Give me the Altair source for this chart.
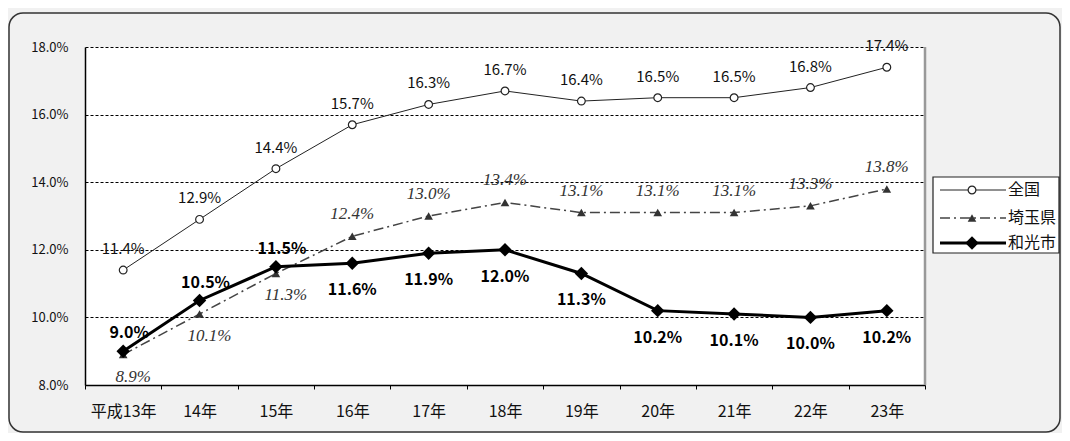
import altair as alt
import pandas as pd

years = ["平成13年", "14年", "15年", "16年", "17年", "18年", "19年", "20年", "21年", "22年", "23年"]
series_names = ["全国", "埼玉県", "和光市"]
zenkoku = [11.4, 12.9, 14.4, 15.7, 16.3, 16.7, 16.4, 16.5, 16.5, 16.8, 17.4]
saitama = [8.9, 10.1, 11.3, 12.4, 13.0, 13.4, 13.1, 13.1, 13.1, 13.3, 13.8]
wako = [9.0, 10.5, 11.5, 11.6, 11.9, 12.0, 11.3, 10.2, 10.1, 10.0, 10.2]
y_ticks = [8, 10, 12, 14, 16, 18]

rows = []
for name, vals in zip(series_names, [zenkoku, saitama, wako]):
    for i, (yr, v) in enumerate(zip(years, vals)):
        rows.append({"year": yr, "series": name, "value": v,
                     "label": f"{v:.1f}%", "idx": i})
df = pd.DataFrame(rows)

W, H = 840, 338
JP = "Noto Sans CJK JP"
SERIF = "'Liberation Serif', 'Times New Roman', serif"

x_enc = alt.X("year:N", sort=years, title=None,
              scale=alt.Scale(type="band", paddingInner=0, paddingOuter=0),
              axis=alt.Axis(tickBand="extent", tickSize=4, tickColor="black",
                            domainColor="black", domainWidth=1.5,
                            labelFont=JP, labelFontSize=16, labelColor="#111",
                            labelPadding=14, labelAngle=0, grid=False))
y_enc = alt.Y("value:Q", title=None,
              scale=alt.Scale(domain=[8, 18], nice=False, zero=False),
              axis=alt.Axis(values=y_ticks,
                            labelExpr="format(datum.value, '.1f') + '%'",
                            ticks=False, domainColor="black", domainWidth=1.5,
                            grid=True, gridColor="black", gridDash=[3, 2],
                            gridWidth=1, labelFont=JP, labelFontSize=13,
                            labelColor="#111", labelPadding=17))

base = alt.Chart(df).encode(x=x_enc, y=y_enc, text="label:N")

def sel(name):
    return base.transform_filter(alt.datum.series == name)

line_z = sel("全国").mark_line(color="#222", strokeWidth=1)
pt_z = sel("全国").mark_point(shape="circle", filled=True, fill="white",
                              stroke="#222", strokeWidth=1.2, size=60, opacity=1)
line_s = sel("埼玉県").mark_line(color="#444", strokeWidth=1.5, strokeDash=[10, 4, 2, 4])
pt_s = sel("埼玉県").mark_point(shape="triangle-up", filled=True, color="#333",
                               size=75, opacity=1)
line_w = sel("和光市").mark_line(color="black", strokeWidth=3)
pt_w = sel("和光市").mark_point(shape="diamond", filled=True, color="black",
                               size=180, opacity=1)

txt_z = sel("全国").mark_text(font=JP, fontSize=15, color="#111", dy=-21)
txt_s_up = sel("埼玉県").transform_filter(alt.datum.idx >= 3).mark_text(
    font=SERIF, fontStyle="italic", fontSize=17, color="#333", dy=-22)
txt_s_dn = sel("埼玉県").transform_filter(alt.datum.idx < 3).mark_text(
    font=SERIF, fontStyle="italic", fontSize=17, color="#333", dy=22, dx=10)
txt_w_up = sel("和光市").transform_filter(alt.datum.idx < 3).mark_text(
    font=JP, fontWeight="bold", fontSize=16, color="black", dy=-18, dx=6)
txt_w_dn = sel("和光市").transform_filter(alt.datum.idx >= 3).mark_text(
    font=JP, fontWeight="bold", fontSize=16, color="black", dy=27)

one = alt.Data(values=[{"k": 1}])

frame = alt.Chart(one).mark_rect(fillOpacity=0, stroke="#333", strokeWidth=1.5,
                                 cornerRadius=14).encode(
    x=alt.value(-76), x2=alt.value(975), y=alt.value(-34), y2=alt.value(385))
right_border = alt.Chart(one).mark_rule(color="#999", strokeWidth=2.5).encode(
    x=alt.value(W), y=alt.value(0), y2=alt.value(H))

leg_box = alt.Chart(one).mark_rect(fill="white", stroke="#222", strokeWidth=1.2).encode(
    x=alt.value(848), x2=alt.value(974), y=alt.value(130), y2=alt.value(206))
leg_rows = [143, 171, 196]
leg_layers = [leg_box]
styles = [
    dict(rule=dict(color="#222", strokeWidth=1),
         pt=dict(shape="circle", filled=True, fill="white", stroke="#222", strokeWidth=1.2, size=60)),
    dict(rule=dict(color="#444", strokeWidth=1.5, strokeDash=[10, 4, 2, 4]),
         pt=dict(shape="triangle-up", filled=True, color="#333", size=75)),
    dict(rule=dict(color="black", strokeWidth=3),
         pt=dict(shape="diamond", filled=True, color="black", size=180)),
]
for name, ry, st in zip(series_names, leg_rows, styles):
    leg_layers.append(alt.Chart(one).mark_rule(**st["rule"]).encode(
        x=alt.value(855), x2=alt.value(921), y=alt.value(ry)))
    leg_layers.append(alt.Chart(one).mark_point(opacity=1, **st["pt"]).encode(
        x=alt.value(887), y=alt.value(ry)))
    leg_layers.append(alt.Chart(one).mark_text(font=JP, fontSize=16, align="left",
                                               baseline="middle", color="#111").encode(
        x=alt.value(923), y=alt.value(ry), text=alt.value(name)))

chart = alt.layer(
    frame, right_border,
    line_s, line_z, line_w, pt_s, pt_z, pt_w,
    txt_z, txt_s_up, txt_s_dn, txt_w_up, txt_w_dn,
    *leg_layers
).properties(
    width=W, height=H,
    autosize=alt.AutoSizeParams(type="none"),
    padding={"left": 77, "top": 39, "right": 137, "bottom": 48},
    background="#f1f1f1",
).configure_view(fill="white", stroke=None)

chart.save("out.html", embed_options={"renderer": "svg", "actions": False})
